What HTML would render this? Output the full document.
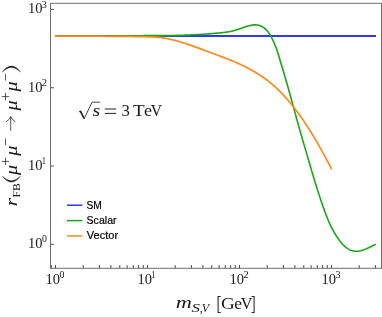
<!DOCTYPE html>
<html><head><meta charset="utf-8"><title>rFB</title>
<style>
html,body{margin:0;padding:0;background:#fff;}
body{width:382px;height:317px;overflow:hidden;}
svg{display:block;}
text{fill:#1a1a1a;}
.lgd text{fill:#000;stroke:#000;stroke-width:0.2px;}
.lg{font-family:"Liberation Sans",sans-serif;font-size:10.5px;fill:#111;}
</style></head><body>
<svg width="382" height="317" viewBox="0 0 382 317">
<rect x="0" y="0" width="382" height="317" fill="#fff"/>
<!-- curves -->
<path d="M55.5,36.0 L376.0,36.0" stroke="#3636f6" stroke-width="2" fill="none"/>
<path d="M55.30,36.05 L56.10,36.05 L56.91,36.05 L57.71,36.05 L58.51,36.05 L59.32,36.05 L60.12,36.05 L60.92,36.05 L61.73,36.05 L62.53,36.05 L63.33,36.05 L64.14,36.05 L64.94,36.05 L65.74,36.05 L66.55,36.05 L67.35,36.05 L68.15,36.05 L68.96,36.05 L69.76,36.05 L70.56,36.05 L71.37,36.05 L72.17,36.05 L72.97,36.04 L73.77,36.04 L74.58,36.04 L75.38,36.04 L76.18,36.04 L76.99,36.04 L77.79,36.04 L78.59,36.04 L79.40,36.04 L80.20,36.04 L81.00,36.04 L81.81,36.04 L82.61,36.04 L83.41,36.04 L84.22,36.04 L85.02,36.03 L85.82,36.03 L86.63,36.03 L87.43,36.03 L88.23,36.03 L89.04,36.03 L89.84,36.03 L90.64,36.03 L91.45,36.03 L92.25,36.03 L93.05,36.02 L93.86,36.02 L94.66,36.02 L95.46,36.02 L96.27,36.02 L97.07,36.02 L97.87,36.02 L98.68,36.01 L99.48,36.01 L100.28,36.01 L101.09,36.01 L101.89,36.01 L102.69,36.01 L103.50,36.01 L104.30,36.00 L105.10,36.00 L105.91,36.00 L106.71,36.00 L107.51,35.99 L108.32,35.99 L109.12,35.98 L109.92,35.97 L110.72,35.96 L111.53,35.94 L112.33,35.93 L113.13,35.92 L113.94,35.91 L114.74,35.89 L115.54,35.88 L116.35,35.87 L117.15,35.86 L117.95,35.85 L118.76,35.84 L119.56,35.83 L120.36,35.83 L121.17,35.82 L121.97,35.81 L122.77,35.81 L123.58,35.80 L124.38,35.79 L125.18,35.79 L125.99,35.78 L126.79,35.77 L127.59,35.77 L128.40,35.76 L129.20,35.76 L130.00,35.75 L130.81,35.74 L131.61,35.74 L132.41,35.73 L133.22,35.73 L134.02,35.72 L134.82,35.72 L135.63,35.72 L136.43,35.71 L137.23,35.71 L138.04,35.70 L138.84,35.70 L139.64,35.69 L140.45,35.69 L141.25,35.69 L142.05,35.68 L142.86,35.68 L143.66,35.67 L144.46,35.67 L145.26,35.67 L146.07,35.66 L146.87,35.66 L147.67,35.66 L148.48,35.66 L149.28,35.65 L150.08,35.65 L150.89,35.65 L151.69,35.65 L152.49,35.65 L153.30,35.65 L154.10,35.65 L154.90,35.65 L155.71,35.65 L156.51,35.65 L157.31,35.65 L158.12,35.65 L158.92,35.65 L159.72,35.65 L160.53,35.65 L161.33,35.65 L162.13,35.64 L162.94,35.64 L163.74,35.64 L164.54,35.63 L165.35,35.62 L166.15,35.62 L166.95,35.61 L167.76,35.60 L168.56,35.59 L169.36,35.58 L170.17,35.56 L170.97,35.55 L171.77,35.53 L172.58,35.52 L173.38,35.50 L174.18,35.48 L174.99,35.46 L175.79,35.44 L176.59,35.42 L177.40,35.40 L178.20,35.37 L179.00,35.35 L179.81,35.33 L180.61,35.30 L181.41,35.27 L182.21,35.25 L183.02,35.22 L183.82,35.19 L184.62,35.16 L185.43,35.13 L186.23,35.10 L187.03,35.07 L187.84,35.04 L188.64,35.00 L189.44,34.97 L190.25,34.93 L191.05,34.90 L191.85,34.86 L192.66,34.82 L193.46,34.78 L194.26,34.74 L195.07,34.70 L195.87,34.66 L196.67,34.62 L197.48,34.57 L198.28,34.53 L199.08,34.48 L199.89,34.43 L200.69,34.38 L201.49,34.33 L202.30,34.28 L203.10,34.23 L203.90,34.18 L204.71,34.12 L205.51,34.07 L206.31,34.01 L207.12,33.96 L207.92,33.90 L208.72,33.84 L209.53,33.78 L210.33,33.71 L211.13,33.65 L211.94,33.58 L212.74,33.52 L213.54,33.45 L214.35,33.38 L215.15,33.31 L215.95,33.24 L216.75,33.17 L217.56,33.09 L218.36,33.02 L219.16,32.94 L219.97,32.86 L220.77,32.78 L221.57,32.70 L222.38,32.62 L223.18,32.53 L223.98,32.43 L224.79,32.34 L225.59,32.23 L226.39,32.12 L227.20,32.00 L228.00,31.88 L228.80,31.74 L229.61,31.60 L230.41,31.44 L231.21,31.27 L232.02,31.09 L232.82,30.90 L233.62,30.70 L234.43,30.48 L235.23,30.25 L236.03,30.01 L236.84,29.76 L237.64,29.50 L238.44,29.24 L239.25,28.97 L240.05,28.69 L240.85,28.42 L241.66,28.14 L242.46,27.86 L243.26,27.59 L244.07,27.31 L244.87,27.04 L245.67,26.78 L246.48,26.52 L247.28,26.27 L248.08,26.03 L248.89,25.81 L249.69,25.60 L250.49,25.41 L251.29,25.25 L252.10,25.11 L252.90,24.99 L253.70,24.91 L254.51,24.86 L255.31,24.84 L256.11,24.87 L256.92,24.94 L257.72,25.05 L258.52,25.20 L259.33,25.41 L260.13,25.67 L260.93,25.99 L261.74,26.38 L262.54,26.82 L263.34,27.34 L264.15,27.93 L264.95,28.60 L265.75,29.35 L266.56,30.18 L267.36,31.10 L268.16,32.11 L268.97,33.21 L269.77,34.42 L270.57,35.73 L271.38,37.14 L272.18,38.67 L272.98,40.30 L273.79,42.06 L274.59,43.94 L275.39,45.94 L276.20,48.08 L277.00,50.36 L277.80,52.78 L278.61,55.34 L279.41,57.99 L280.21,60.69 L281.02,63.40 L281.82,66.09 L282.62,68.78 L283.43,71.47 L284.23,74.17 L285.03,76.90 L285.84,79.65 L286.64,82.44 L287.44,85.26 L288.24,88.10 L289.05,90.97 L289.85,93.86 L290.65,96.76 L291.46,99.68 L292.26,102.60 L293.06,105.54 L293.87,108.48 L294.67,111.41 L295.47,114.35 L296.28,117.28 L297.08,120.20 L297.88,123.10 L298.69,125.99 L299.49,128.86 L300.29,131.71 L301.10,134.53 L301.90,137.33 L302.70,140.12 L303.51,142.89 L304.31,145.65 L305.11,148.39 L305.92,151.14 L306.72,153.87 L307.52,156.61 L308.33,159.35 L309.13,162.09 L309.93,164.84 L310.74,167.60 L311.54,170.35 L312.34,173.09 L313.15,175.80 L313.95,178.47 L314.75,181.12 L315.56,183.73 L316.36,186.32 L317.16,188.87 L317.97,191.39 L318.77,193.88 L319.57,196.33 L320.38,198.76 L321.18,201.15 L321.98,203.50 L322.78,205.82 L323.59,208.11 L324.39,210.36 L325.19,212.55 L326.00,214.70 L326.80,216.78 L327.60,218.79 L328.41,220.73 L329.21,222.58 L330.01,224.35 L330.82,226.04 L331.62,227.65 L332.42,229.19 L333.23,230.67 L334.03,232.09 L334.83,233.46 L335.64,234.78 L336.44,236.06 L337.24,237.29 L338.05,238.47 L338.85,239.60 L339.65,240.69 L340.46,241.72 L341.26,242.71 L342.06,243.64 L342.87,244.52 L343.67,245.35 L344.47,246.12 L345.28,246.84 L346.08,247.51 L346.88,248.12 L347.69,248.67 L348.49,249.17 L349.29,249.61 L350.10,249.99 L350.90,250.32 L351.70,250.60 L352.51,250.83 L353.31,251.01 L354.11,251.14 L354.92,251.23 L355.72,251.28 L356.52,251.28 L357.33,251.25 L358.13,251.18 L358.93,251.07 L359.73,250.93 L360.54,250.77 L361.34,250.57 L362.14,250.34 L362.95,250.09 L363.75,249.82 L364.55,249.52 L365.36,249.21 L366.16,248.88 L366.96,248.53 L367.77,248.17 L368.57,247.80 L369.37,247.42 L370.18,247.03 L370.98,246.63 L371.78,246.23 L372.59,245.83 L373.39,245.43 L374.19,245.03 L375.00,244.63 L375.80,244.24" stroke="#19a619" stroke-width="1.6" fill="none" stroke-linejoin="round"/>
<path d="M54.90,36.10 L55.59,36.10 L56.29,36.10 L56.98,36.10 L57.67,36.10 L58.37,36.10 L59.06,36.10 L59.76,36.10 L60.45,36.10 L61.14,36.10 L61.84,36.10 L62.53,36.10 L63.22,36.10 L63.92,36.10 L64.61,36.10 L65.31,36.10 L66.00,36.10 L66.69,36.10 L67.39,36.10 L68.08,36.10 L68.77,36.10 L69.47,36.10 L70.16,36.10 L70.86,36.10 L71.55,36.10 L72.24,36.11 L72.94,36.11 L73.63,36.11 L74.32,36.11 L75.02,36.11 L75.71,36.11 L76.41,36.11 L77.10,36.11 L77.79,36.11 L78.49,36.11 L79.18,36.11 L79.87,36.11 L80.57,36.11 L81.26,36.11 L81.96,36.11 L82.65,36.12 L83.34,36.12 L84.04,36.12 L84.73,36.12 L85.42,36.12 L86.12,36.12 L86.81,36.12 L87.51,36.12 L88.20,36.12 L88.89,36.13 L89.59,36.13 L90.28,36.13 L90.97,36.13 L91.67,36.13 L92.36,36.13 L93.06,36.13 L93.75,36.13 L94.44,36.14 L95.14,36.14 L95.83,36.14 L96.52,36.14 L97.22,36.14 L97.91,36.14 L98.61,36.15 L99.30,36.15 L99.99,36.15 L100.69,36.16 L101.38,36.17 L102.07,36.18 L102.77,36.20 L103.46,36.22 L104.16,36.24 L104.85,36.26 L105.54,36.28 L106.24,36.29 L106.93,36.30 L107.62,36.31 L108.32,36.31 L109.01,36.32 L109.71,36.32 L110.40,36.32 L111.09,36.33 L111.79,36.33 L112.48,36.33 L113.17,36.34 L113.87,36.34 L114.56,36.34 L115.25,36.35 L115.95,36.35 L116.64,36.35 L117.34,36.36 L118.03,36.36 L118.72,36.36 L119.42,36.37 L120.11,36.37 L120.80,36.38 L121.50,36.38 L122.19,36.39 L122.89,36.39 L123.58,36.40 L124.27,36.40 L124.97,36.41 L125.66,36.42 L126.35,36.42 L127.05,36.43 L127.74,36.44 L128.44,36.44 L129.13,36.45 L129.82,36.46 L130.52,36.47 L131.21,36.47 L131.90,36.48 L132.60,36.49 L133.29,36.51 L133.99,36.52 L134.68,36.53 L135.37,36.54 L136.07,36.55 L136.76,36.57 L137.45,36.58 L138.15,36.59 L138.84,36.61 L139.54,36.62 L140.23,36.64 L140.92,36.65 L141.62,36.67 L142.31,36.68 L143.00,36.70 L143.70,36.72 L144.39,36.73 L145.09,36.75 L145.78,36.76 L146.47,36.78 L147.17,36.79 L147.86,36.80 L148.55,36.82 L149.25,36.83 L149.94,36.85 L150.64,36.86 L151.33,36.88 L152.02,36.90 L152.72,36.93 L153.41,36.95 L154.10,36.98 L154.80,37.02 L155.49,37.06 L156.19,37.10 L156.88,37.15 L157.57,37.21 L158.27,37.28 L158.96,37.35 L159.65,37.43 L160.35,37.52 L161.04,37.61 L161.74,37.71 L162.43,37.82 L163.12,37.92 L163.82,38.04 L164.51,38.15 L165.20,38.27 L165.90,38.40 L166.59,38.53 L167.28,38.66 L167.98,38.80 L168.67,38.94 L169.37,39.09 L170.06,39.24 L170.75,39.40 L171.45,39.56 L172.14,39.72 L172.83,39.89 L173.53,40.07 L174.22,40.24 L174.92,40.42 L175.61,40.60 L176.30,40.78 L177.00,40.97 L177.69,41.17 L178.38,41.36 L179.08,41.56 L179.77,41.76 L180.47,41.97 L181.16,42.17 L181.85,42.39 L182.55,42.60 L183.24,42.82 L183.93,43.04 L184.63,43.26 L185.32,43.48 L186.02,43.71 L186.71,43.94 L187.40,44.17 L188.10,44.41 L188.79,44.64 L189.48,44.88 L190.18,45.12 L190.87,45.37 L191.57,45.61 L192.26,45.85 L192.95,46.10 L193.65,46.35 L194.34,46.60 L195.03,46.85 L195.73,47.10 L196.42,47.35 L197.12,47.61 L197.81,47.86 L198.50,48.12 L199.20,48.38 L199.89,48.63 L200.58,48.89 L201.28,49.15 L201.97,49.41 L202.67,49.67 L203.36,49.92 L204.05,50.18 L204.75,50.44 L205.44,50.70 L206.13,50.96 L206.83,51.22 L207.52,51.47 L208.22,51.73 L208.91,51.99 L209.60,52.24 L210.30,52.50 L210.99,52.75 L211.68,53.01 L212.38,53.26 L213.07,53.52 L213.77,53.77 L214.46,54.03 L215.15,54.28 L215.85,54.54 L216.54,54.79 L217.23,55.05 L217.93,55.30 L218.62,55.56 L219.32,55.82 L220.01,56.08 L220.70,56.33 L221.40,56.59 L222.09,56.85 L222.78,57.12 L223.48,57.38 L224.17,57.64 L224.86,57.91 L225.56,58.18 L226.25,58.45 L226.95,58.72 L227.64,58.99 L228.33,59.26 L229.03,59.54 L229.72,59.82 L230.41,60.10 L231.11,60.38 L231.80,60.66 L232.50,60.95 L233.19,61.24 L233.88,61.53 L234.58,61.83 L235.27,62.12 L235.96,62.42 L236.66,62.73 L237.35,63.03 L238.05,63.34 L238.74,63.65 L239.43,63.97 L240.13,64.29 L240.82,64.61 L241.51,64.94 L242.21,65.27 L242.90,65.60 L243.60,65.94 L244.29,66.28 L244.98,66.62 L245.68,66.97 L246.37,67.32 L247.06,67.68 L247.76,68.04 L248.45,68.41 L249.15,68.78 L249.84,69.15 L250.53,69.53 L251.23,69.92 L251.92,70.31 L252.61,70.70 L253.31,71.10 L254.00,71.50 L254.70,71.91 L255.39,72.33 L256.08,72.75 L256.78,73.17 L257.47,73.61 L258.16,74.04 L258.86,74.49 L259.55,74.93 L260.25,75.39 L260.94,75.85 L261.63,76.32 L262.33,76.79 L263.02,77.27 L263.71,77.76 L264.41,78.25 L265.10,78.75 L265.80,79.26 L266.49,79.78 L267.18,80.30 L267.88,80.83 L268.57,81.37 L269.26,81.92 L269.96,82.47 L270.65,83.04 L271.35,83.61 L272.04,84.19 L272.73,84.78 L273.43,85.38 L274.12,85.99 L274.81,86.61 L275.51,87.23 L276.20,87.87 L276.89,88.52 L277.59,89.18 L278.28,89.84 L278.98,90.52 L279.67,91.21 L280.36,91.91 L281.06,92.61 L281.75,93.33 L282.44,94.06 L283.14,94.80 L283.83,95.54 L284.53,96.30 L285.22,97.07 L285.91,97.84 L286.61,98.63 L287.30,99.42 L287.99,100.23 L288.69,101.04 L289.38,101.87 L290.08,102.70 L290.77,103.55 L291.46,104.40 L292.16,105.26 L292.85,106.13 L293.54,107.02 L294.24,107.91 L294.93,108.81 L295.63,109.72 L296.32,110.64 L297.01,111.57 L297.71,112.50 L298.40,113.45 L299.09,114.41 L299.79,115.37 L300.48,116.35 L301.18,117.33 L301.87,118.33 L302.56,119.33 L303.26,120.34 L303.95,121.36 L304.64,122.39 L305.34,123.43 L306.03,124.48 L306.73,125.54 L307.42,126.61 L308.11,127.68 L308.81,128.77 L309.50,129.86 L310.19,130.96 L310.89,132.07 L311.58,133.19 L312.28,134.32 L312.97,135.46 L313.66,136.61 L314.36,137.76 L315.05,138.93 L315.74,140.10 L316.44,141.28 L317.13,142.47 L317.83,143.67 L318.52,144.88 L319.21,146.10 L319.91,147.32 L320.60,148.56 L321.29,149.80 L321.99,151.05 L322.68,152.31 L323.38,153.58 L324.07,154.85 L324.76,156.14 L325.46,157.43 L326.15,158.73 L326.84,160.04 L327.54,161.36 L328.23,162.69 L328.93,164.02 L329.62,165.36 L330.31,166.72 L331.01,168.08 L331.70,169.44" stroke="#ff8a1f" stroke-width="1.7" fill="none" stroke-linejoin="round"/>
<!-- frame -->
<rect x="50.5" y="3.3" width="331.0" height="265.0" fill="none" stroke="#6e6e6e" stroke-width="1"/>
<path d="M51.29,268.3 v-3.3 M55.50,268.3 v-3.4 M83.19,268.3 v-3.3 M99.40,268.3 v-3.3 M110.89,268.3 v-3.3 M119.81,268.3 v-3.3 M127.09,268.3 v-3.3 M133.25,268.3 v-3.3 M138.58,268.3 v-3.3 M143.29,268.3 v-3.3 M147.50,268.3 v-3.4 M175.19,268.3 v-3.3 M191.40,268.3 v-3.3 M202.89,268.3 v-3.3 M211.81,268.3 v-3.3 M219.09,268.3 v-3.3 M225.25,268.3 v-3.3 M230.58,268.3 v-3.3 M235.29,268.3 v-3.3 M239.50,268.3 v-3.4 M267.19,268.3 v-3.3 M283.40,268.3 v-3.3 M294.89,268.3 v-3.3 M303.81,268.3 v-3.3 M311.09,268.3 v-3.3 M317.25,268.3 v-3.3 M322.58,268.3 v-3.3 M327.29,268.3 v-3.3 M331.50,268.3 v-3.4 M359.19,268.3 v-3.3 M375.40,268.3 v-3.3 M50.5,244.35 h3.4 M50.5,166.05 h3.4 M50.5,87.75 h3.4 M50.5,9.45 h3.4" stroke="#505050" stroke-width="1" fill="none"/>
<g opacity="0.999">
<!-- tick labels -->
<text transform="translate(45.52,283.70) scale(1.045,1)" style="font-family:'Liberation Serif',serif;font-size:13.9px">10</text><text transform="translate(59.52,277.80) scale(1.054,1)" style="font-family:'Liberation Serif',serif;font-size:9.4px">0</text>
<text transform="translate(27.92,248.35) scale(1.045,1)" style="font-family:'Liberation Serif',serif;font-size:13.9px">10</text><text transform="translate(41.92,242.45) scale(1.054,1)" style="font-family:'Liberation Serif',serif;font-size:9.4px">0</text>
<text transform="translate(137.52,283.70) scale(1.045,1)" style="font-family:'Liberation Serif',serif;font-size:13.9px">10</text><text transform="translate(151.25,277.80) scale(0.907,1)" style="font-family:'Liberation Serif',serif;font-size:9.4px">1</text>
<text transform="translate(27.92,170.05) scale(1.045,1)" style="font-family:'Liberation Serif',serif;font-size:13.9px">10</text><text transform="translate(41.65,164.15) scale(0.907,1)" style="font-family:'Liberation Serif',serif;font-size:9.4px">1</text>
<text transform="translate(229.52,283.70) scale(1.045,1)" style="font-family:'Liberation Serif',serif;font-size:13.9px">10</text><text transform="translate(243.44,277.80) scale(1.115,1)" style="font-family:'Liberation Serif',serif;font-size:9.4px">2</text>
<text transform="translate(27.92,91.75) scale(1.045,1)" style="font-family:'Liberation Serif',serif;font-size:13.9px">10</text><text transform="translate(41.84,85.85) scale(1.115,1)" style="font-family:'Liberation Serif',serif;font-size:9.4px">2</text>
<text transform="translate(321.52,283.70) scale(1.045,1)" style="font-family:'Liberation Serif',serif;font-size:13.9px">10</text><text transform="translate(335.41,277.80) scale(1.082,1)" style="font-family:'Liberation Serif',serif;font-size:9.4px">3</text>
<text transform="translate(27.92,13.45) scale(1.045,1)" style="font-family:'Liberation Serif',serif;font-size:13.9px">10</text><text transform="translate(41.81,7.55) scale(1.082,1)" style="font-family:'Liberation Serif',serif;font-size:9.4px">3</text>
<!-- legend -->
<path d="M67,205.2 H82.4" stroke="#3636f6" stroke-width="1.5"/>
<path d="M67,220.6 H82.4" stroke="#19a619" stroke-width="1.5"/>
<path d="M67,235.9 H82.4" stroke="#ff8a1f" stroke-width="1.5"/>
<g class="lgd"><text transform="translate(86.53,208.80) scale(0.942,1)" style="font-family:'Liberation Sans',serif;font-size:10.9px">SM</text>
<text transform="translate(86.52,224.00) scale(0.973,1)" style="font-family:'Liberation Sans',serif;font-size:10.9px">Scalar</text>
<text transform="translate(86.75,239.30) scale(1.014,1)" style="font-family:'Liberation Sans',serif;font-size:10.9px">Vector</text></g>
<!-- annotation -->
<path d="M78.9,112.0 L80.7,110.8 L84.2,118.7 L92,102.2 H99.9" stroke="#222" stroke-width="0.85" fill="none" stroke-linejoin="miter"/>
<path d="M80.3,111.1 L84.0,118.5" stroke="#222" stroke-width="1.5" fill="none"/>
<text transform="translate(92.46,115.90) scale(1.185,1)" style="font-family:'Liberation Serif',serif;font-style:italic;font-size:16.8px">s</text>
<path d="M104.8,109.0 H116.2 M104.8,113.4 H116.2" stroke="#222" stroke-width="1" fill="none"/>
<text transform="translate(121.40,115.90) scale(0.966,1)" style="font-family:'Liberation Serif',serif;font-size:17.3px">3</text>
<text transform="translate(132.96,115.90) scale(1.104,1)" style="font-family:'Liberation Serif',serif;font-size:17.3px">T</text>
<text transform="translate(143.99,115.90) scale(1.046,1)" style="font-family:'Liberation Serif',serif;font-size:17.3px">e</text>
<text transform="translate(150.83,115.90) scale(0.900,1)" style="font-family:'Liberation Serif',serif;font-size:17.3px">V</text>
<!-- x label -->
<text transform="translate(175.69,308.40) scale(1.406,1)" style="font-family:'Liberation Serif',serif;font-style:italic;font-size:15.9px">m</text>
<text transform="translate(191.40,311.50) scale(1.412,1)" style="font-family:'Liberation Serif',serif;font-style:italic;font-size:12px">S</text>
<text transform="translate(199.74,311.50) scale(1.000,1)" style="font-family:'Liberation Serif',serif;font-size:12px">,</text>
<text transform="translate(201.67,311.50) scale(1.005,1)" style="font-family:'Liberation Serif',serif;font-style:italic;font-size:12px">V</text>
<path d="M220.7,296.4 H218.1 V312.4 H220.7 M251.6,296.4 H254.1 V312.4 H251.6" stroke="#222" stroke-width="1.05" fill="none"/>
<text transform="translate(221.02,308.50) scale(1.136,1)" style="font-family:'Liberation Serif',serif;font-size:16.8px">G</text>
<text transform="translate(234.21,308.50) scale(1.045,1)" style="font-family:'Liberation Serif',serif;font-size:16.8px">e</text>
<text transform="translate(240.82,308.50) scale(0.961,1)" style="font-family:'Liberation Serif',serif;font-size:16.8px">V</text>
<!-- y label -->
<g transform="translate(16.6,206.0) rotate(-90)">
<text transform="translate(-0.26,0.00) scale(1.333,1)" style="font-family:'Liberation Serif',serif;font-style:italic;font-size:16.0px">r</text>
<text transform="translate(8.56,3.10) scale(1.052,1)" style="font-family:'Liberation Serif',serif;font-size:11.2px">FB</text>
<path d="M29.9,-14.3 C25.6,-11.2 23.9,-8.2 23.9,-5.2 C23.9,-2.2 25.6,0.8 29.9,3.9 C26.8,0.6 25.3,-2.2 25.3,-5.2 C25.3,-8.2 26.8,-11.0 29.9,-14.3 Z" fill="#1a1a1a" stroke="#1a1a1a" stroke-width="0.35"/>
<text transform="translate(31.02,0.00) scale(1.169,1)" style="font-family:'Liberation Serif',serif;font-style:italic;font-size:17.3px">μ</text>
<path d="M40.90,-11.1 h7.4 M44.60,-14.8 v7.4" stroke="#222" stroke-width="0.75" fill="none"/>
<text transform="translate(50.32,0.00) scale(1.169,1)" style="font-family:'Liberation Serif',serif;font-style:italic;font-size:17.3px">μ</text>
<path d="M61.00,-11.1 h6.6" stroke="#222" stroke-width="0.75" fill="none"/>
<path d="M75.2,-5.9 H89.0" stroke="#222" stroke-width="0.75" fill="none"/>
<path d="M84.2,-10.6 Q86.0,-7.2 89.4,-5.9 Q86.0,-4.6 84.2,-1.2" stroke="#222" stroke-width="0.75" fill="none"/>
<text transform="translate(95.62,0.00) scale(1.169,1)" style="font-family:'Liberation Serif',serif;font-style:italic;font-size:17.3px">μ</text>
<path d="M105.70,-11.1 h7.4 M109.40,-14.8 v7.4" stroke="#222" stroke-width="0.75" fill="none"/>
<text transform="translate(114.52,0.00) scale(1.169,1)" style="font-family:'Liberation Serif',serif;font-style:italic;font-size:17.3px">μ</text>
<path d="M125.50,-11.1 h6.6" stroke="#222" stroke-width="0.75" fill="none"/>
<path d="M133.9,-14.3 C138.2,-11.2 139.9,-8.2 139.9,-5.2 C139.9,-2.2 138.2,0.8 133.9,3.9 C137.0,0.6 138.5,-2.2 138.5,-5.2 C138.5,-8.2 137.0,-11.0 133.9,-14.3 Z" fill="#1a1a1a" stroke="#1a1a1a" stroke-width="0.35"/>
</g>
</g>
</svg>
</body></html>
